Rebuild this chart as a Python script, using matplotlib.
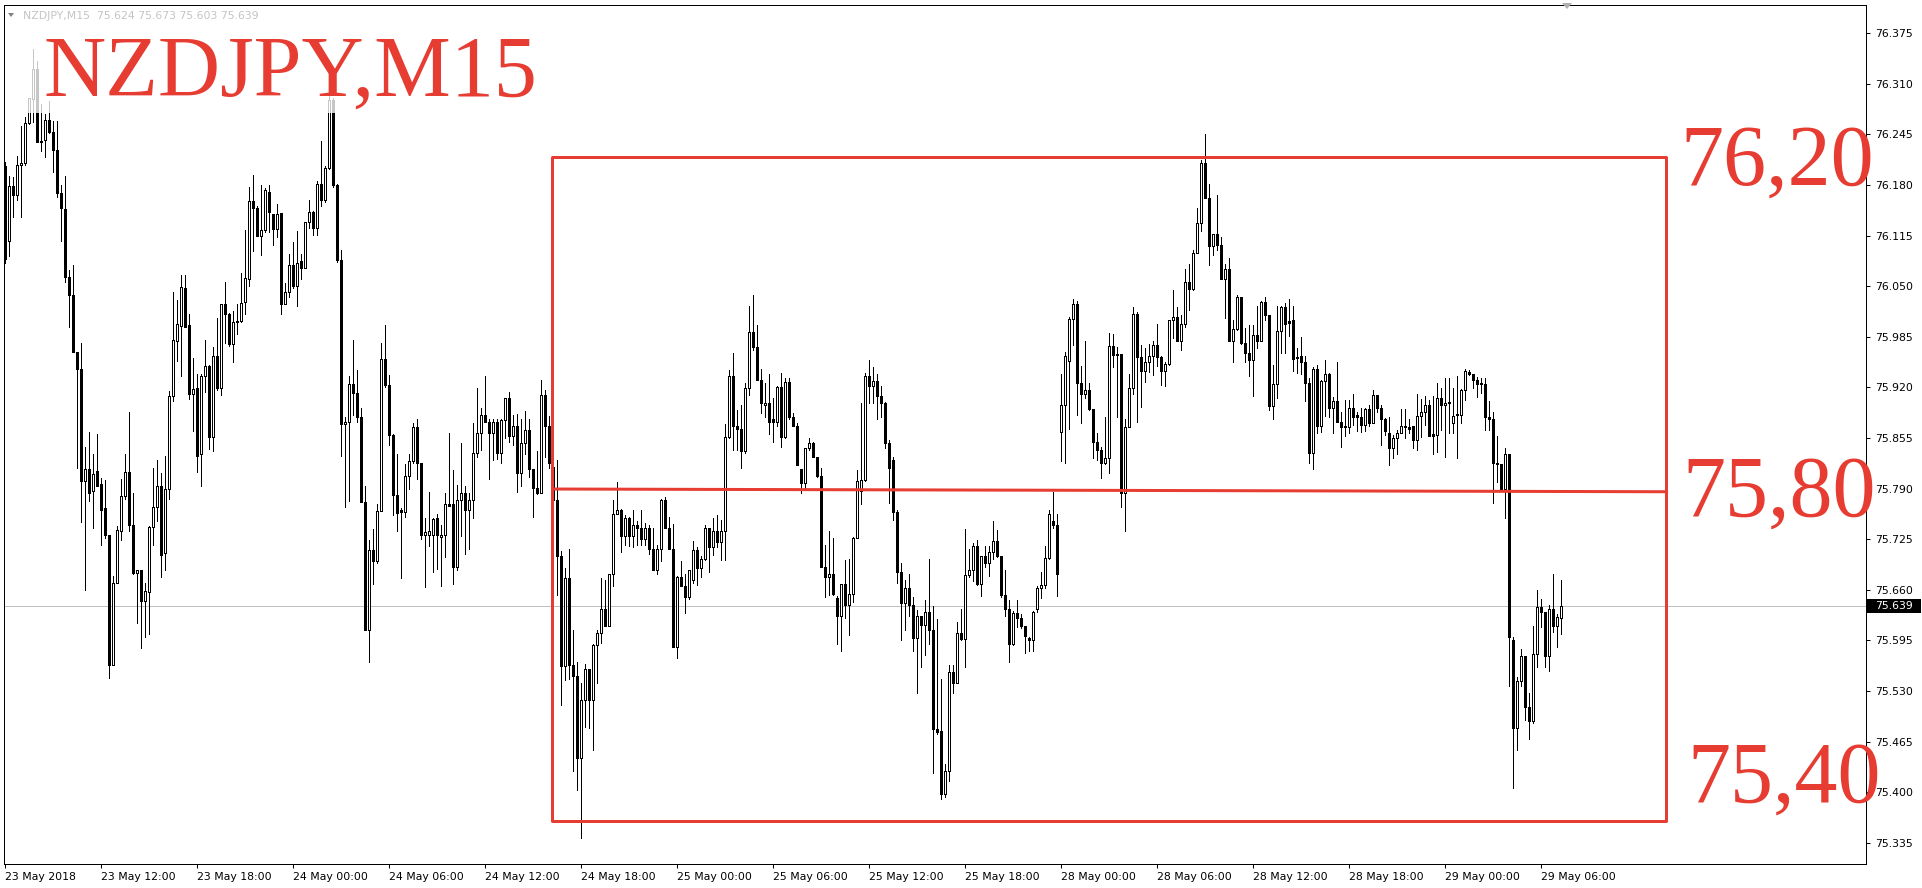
# -*- coding: utf-8 -*-
"""
NZDJPY M15 candlestick chart, MT4 style, with hand-drawn range box.
"""
import matplotlib
matplotlib.use("Agg")
import matplotlib.pyplot as plt
import numpy as np
from matplotlib.patches import Rectangle, Polygon

# --------------- data (M15 bars, 23 May 06:00 .. 29 May 07:30) ---------------
opens = [
    76.204, 76.108, 76.178, 76.167, 76.206, 76.208, 76.260, 76.290, 76.329, 76.235,
    76.238, 76.263, 76.248, 76.225, 76.170, 76.149, 76.062, 76.039, 75.966, 75.944,
    75.800, 75.815, 75.787, 75.812, 75.796, 75.765, 75.730, 75.564, 75.669, 75.736,
    75.781, 75.811, 75.743, 75.682, 75.685, 75.646, 75.657, 75.741, 75.766, 75.793,
    75.707, 75.790, 75.909, 75.979, 75.999, 76.048, 76.000, 75.912, 75.919, 75.835,
    75.935, 75.947, 75.856, 75.960, 75.919, 76.027, 76.014, 75.976, 76.004, 76.005,
    76.030, 76.059, 76.159, 76.150, 76.114, 76.122, 76.171, 76.142, 76.124, 76.144,
    76.027, 76.043, 76.077, 76.050, 76.082, 76.073, 76.132, 76.145, 76.125, 76.181,
    76.160, 76.202, 76.289, 76.180, 76.084, 75.873, 75.875, 75.924, 75.913, 75.882,
    75.773, 75.609, 75.711, 75.697, 75.761, 75.956, 75.923, 75.859, 75.782, 75.763,
    75.760, 75.806, 75.825, 75.869, 75.823, 75.730, 75.731, 75.731, 75.752, 75.728,
    75.731, 75.770, 75.770, 75.689, 75.775, 75.784, 75.762, 75.775, 75.836, 75.861,
    75.885, 75.876, 75.861, 75.876, 75.836, 75.878, 75.907, 75.857, 75.870, 75.810,
    75.848, 75.865, 75.815, 75.791, 75.785, 75.910, 75.870, 75.818, 75.776, 75.703,
    75.562, 75.675, 75.564, 75.549, 75.444, 75.519, 75.558, 75.519, 75.589, 75.604,
    75.635, 75.613, 75.681, 75.758, 75.763, 75.729, 75.752, 75.729, 75.743, 75.739,
    75.725, 75.739, 75.712, 75.686, 75.713, 75.775, 75.739, 75.713, 75.586, 75.676,
    75.665, 75.651, 75.673, 75.711, 75.688, 75.699, 75.739, 75.715, 75.736, 75.721,
    75.735, 75.856, 75.935, 75.870, 75.867, 75.838, 75.919, 75.991, 75.972, 75.930,
    75.897, 75.900, 75.879, 75.876, 75.920, 75.856, 75.927, 75.882, 75.870, 75.815,
    75.797, 75.842, 75.849, 75.830, 75.806, 75.689, 75.677, 75.681, 75.649, 75.626,
    75.668, 75.641, 75.655, 75.727, 75.787, 75.801, 75.935, 75.922, 75.928, 75.909,
    75.900, 75.849, 75.827, 75.760, 75.683, 75.643, 75.662, 75.641, 75.598, 75.627,
    75.615, 75.631, 75.609, 75.481, 75.479, 75.398, 75.427, 75.554, 75.540, 75.605,
    75.597, 75.679, 75.685, 75.716, 75.668, 75.704, 75.694, 75.708, 75.723, 75.704,
    75.653, 75.636, 75.591, 75.630, 75.624, 75.613, 75.598, 75.595, 75.635, 75.663,
    75.666, 75.701, 75.748, 75.743, 75.863, 75.897, 75.954, 76.008, 76.027, 75.926,
    75.912, 75.917, 75.892, 75.850, 75.840, 75.823, 75.829, 75.973, 75.962, 75.963,
    75.785, 75.869, 75.919, 76.014, 75.959, 75.941, 75.953, 75.960, 75.974, 75.959,
    75.941, 75.950, 76.006, 76.011, 75.980, 76.001, 76.055, 76.046, 76.093, 76.131,
    76.208, 76.163, 76.101, 76.117, 76.103, 76.059, 76.072, 75.979, 75.995, 76.036,
    75.977, 75.964, 75.955, 75.987, 75.980, 76.030, 76.013, 75.896, 75.924, 75.992,
    76.023, 76.005, 76.006, 75.958, 75.960, 75.953, 75.926, 75.836, 75.944, 75.870,
    75.928, 75.937, 75.893, 75.902, 75.876, 75.870, 75.869, 75.893, 75.884, 75.882,
    75.872, 75.892, 75.874, 75.910, 75.893, 75.880, 75.862, 75.842, 75.855, 75.862,
    75.870, 75.869, 75.870, 75.852, 75.883, 75.888, 75.897, 75.860, 75.859, 75.907,
    75.897, 75.901, 75.874, 75.886, 75.885, 75.917, 75.940, 75.937, 75.930, 75.925,
    75.924, 75.882, 75.879, 75.823, 75.822, 75.789, 75.834, 75.596, 75.482, 75.543,
    75.575, 75.509, 75.491, 75.578, 75.638, 75.631, 75.575, 75.635, 75.614, 75.624,
]
highs = [
    76.210, 76.192, 76.190, 76.217, 76.255, 76.267, 76.292, 76.355, 76.339, 76.284,
    76.271, 76.288, 76.262, 76.262, 76.180, 76.192, 76.071, 76.077, 75.966, 75.977,
    75.843, 75.863, 75.834, 75.860, 75.804, 75.801, 75.730, 75.678, 75.742, 75.802,
    75.834, 75.888, 75.784, 75.686, 75.686, 75.669, 75.742, 75.816, 75.827, 75.810,
    75.832, 75.915, 76.042, 76.032, 76.064, 76.064, 76.014, 75.958, 75.937, 75.937,
    75.981, 75.949, 75.972, 76.009, 76.027, 76.055, 76.016, 76.018, 76.027, 76.067,
    76.122, 76.177, 76.193, 76.153, 76.180, 76.176, 76.180, 76.142, 76.156, 76.144,
    76.054, 76.091, 76.107, 76.121, 76.091, 76.132, 76.161, 76.146, 76.185, 76.236,
    76.204, 76.300, 76.292, 76.181, 76.096, 75.882, 75.935, 75.981, 75.942, 75.894,
    75.793, 75.724, 75.738, 75.770, 75.977, 76.000, 75.936, 75.860, 75.835, 75.765,
    75.822, 75.834, 75.874, 75.880, 75.823, 75.752, 75.786, 75.752, 75.757, 75.743,
    75.785, 75.861, 75.814, 75.795, 75.848, 75.793, 75.784, 75.874, 75.919, 75.894,
    75.935, 75.880, 75.880, 75.880, 75.880, 75.907, 75.914, 75.885, 75.886, 75.880,
    75.890, 75.880, 75.815, 75.838, 75.929, 75.917, 75.883, 75.826, 75.827, 75.710,
    75.688, 75.713, 75.608, 75.568, 75.541, 75.565, 75.558, 75.590, 75.608, 75.675,
    75.673, 75.681, 75.775, 75.799, 75.764, 75.756, 75.754, 75.762, 75.748, 75.762,
    75.746, 75.743, 75.739, 75.718, 75.777, 75.779, 75.753, 75.745, 75.678, 75.697,
    75.681, 75.685, 75.723, 75.715, 75.703, 75.743, 75.739, 75.752, 75.756, 75.750,
    75.873, 75.942, 75.964, 75.891, 75.897, 75.925, 76.025, 76.039, 76.000, 75.943,
    75.925, 75.937, 75.906, 75.922, 75.938, 75.932, 75.932, 75.887, 75.874, 75.815,
    75.842, 75.855, 75.850, 75.831, 75.816, 75.718, 75.735, 75.726, 75.652, 75.668,
    75.698, 75.699, 75.728, 75.814, 75.900, 75.939, 75.955, 75.946, 75.937, 75.922,
    75.901, 75.852, 75.831, 75.762, 75.694, 75.673, 75.681, 75.651, 75.634, 75.627,
    75.647, 75.699, 75.639, 75.622, 75.545, 75.437, 75.564, 75.564, 75.619, 75.636,
    75.738, 75.713, 75.720, 75.724, 75.704, 75.716, 75.716, 75.749, 75.737, 75.704,
    75.685, 75.647, 75.633, 75.647, 75.629, 75.613, 75.600, 75.633, 75.665, 75.683,
    75.716, 75.763, 75.786, 75.758, 75.937, 75.965, 76.010, 76.033, 76.031, 75.947,
    75.980, 75.925, 75.892, 75.862, 75.843, 75.882, 75.990, 75.988, 75.972, 75.963,
    75.879, 75.937, 76.023, 76.017, 75.974, 75.971, 75.976, 75.979, 76.001, 75.960,
    75.953, 76.007, 76.045, 76.023, 76.013, 76.072, 76.078, 76.097, 76.150, 76.212,
    76.245, 76.181, 76.117, 76.167, 76.113, 76.078, 76.086, 76.007, 76.039, 76.036,
    75.996, 76.000, 76.000, 76.024, 76.031, 76.036, 76.013, 75.949, 76.024, 76.024,
    76.028, 76.034, 76.024, 75.970, 75.985, 75.960, 75.932, 75.946, 75.949, 75.930,
    75.955, 75.939, 75.908, 75.952, 75.888, 75.904, 75.904, 75.912, 75.888, 75.893,
    75.893, 75.897, 75.916, 75.910, 75.897, 75.881, 75.882, 75.859, 75.865, 75.892,
    75.892, 75.879, 75.870, 75.912, 75.905, 75.909, 75.904, 75.909, 75.925, 75.919,
    75.932, 75.932, 75.919, 75.934, 75.918, 75.943, 75.942, 75.937, 75.933, 75.932,
    75.932, 75.902, 75.889, 75.857, 75.822, 75.842, 75.834, 75.599, 75.548, 75.584,
    75.575, 75.527, 75.614, 75.660, 75.648, 75.632, 75.641, 75.680, 75.629, 75.673,
]
lows = [
    76.080, 76.089, 76.139, 76.161, 76.139, 76.205, 76.258, 76.261, 76.235, 76.223,
    76.216, 76.247, 76.197, 76.165, 76.108, 76.055, 75.998, 75.966, 75.817, 75.747,
    75.660, 75.774, 75.739, 75.793, 75.718, 75.726, 75.547, 75.564, 75.669, 75.724,
    75.777, 75.736, 75.681, 75.617, 75.585, 75.599, 75.603, 75.717, 75.748, 75.677,
    75.685, 75.777, 75.902, 75.954, 75.934, 75.997, 75.905, 75.864, 75.811, 75.793,
    75.914, 75.841, 75.838, 75.917, 75.910, 75.977, 75.973, 75.953, 75.989, 76.004,
    76.014, 76.050, 76.095, 76.114, 76.090, 76.120, 76.120, 76.103, 76.113, 76.014,
    76.027, 76.036, 76.047, 76.025, 76.059, 76.073, 76.125, 76.116, 76.116, 76.153,
    76.158, 76.200, 76.177, 76.081, 75.832, 75.767, 75.774, 75.885, 75.876, 75.773,
    75.608, 75.567, 75.668, 75.694, 75.761, 75.920, 75.846, 75.756, 75.736, 75.675,
    75.753, 75.790, 75.823, 75.803, 75.725, 75.664, 75.716, 75.683, 75.687, 75.665,
    75.702, 75.768, 75.667, 75.685, 75.729, 75.706, 75.713, 75.752, 75.831, 75.840,
    75.875, 75.803, 75.827, 75.828, 75.823, 75.855, 75.850, 75.846, 75.786, 75.793,
    75.835, 75.805, 75.754, 75.783, 75.785, 75.831, 75.816, 75.770, 75.653, 75.512,
    75.544, 75.546, 75.427, 75.403, 75.342, 75.484, 75.482, 75.455, 75.541, 75.592,
    75.613, 75.613, 75.665, 75.757, 75.709, 75.718, 75.716, 75.715, 75.718, 75.718,
    75.718, 75.706, 75.686, 75.681, 75.697, 75.739, 75.713, 75.586, 75.572, 75.665,
    75.630, 75.648, 75.669, 75.666, 75.677, 75.698, 75.683, 75.705, 75.715, 75.698,
    75.698, 75.855, 75.840, 75.839, 75.817, 75.836, 75.910, 75.968, 75.929, 75.887,
    75.882, 75.860, 75.850, 75.870, 75.844, 75.855, 75.879, 75.870, 75.820, 75.785,
    75.790, 75.840, 75.830, 75.805, 75.689, 75.651, 75.653, 75.653, 75.590, 75.582,
    75.624, 75.602, 75.645, 75.726, 75.770, 75.800, 75.900, 75.900, 75.880, 75.882,
    75.842, 75.772, 75.750, 75.669, 75.595, 75.608, 75.626, 75.581, 75.527, 75.561,
    75.576, 75.591, 75.425, 75.475, 75.392, 75.394, 75.414, 75.527, 75.540, 75.595,
    75.561, 75.677, 75.671, 75.666, 75.652, 75.689, 75.678, 75.700, 75.702, 75.651,
    75.626, 75.568, 75.589, 75.612, 75.611, 75.579, 75.581, 75.582, 75.631, 75.649,
    75.662, 75.700, 75.739, 75.652, 75.825, 75.823, 75.867, 75.974, 75.884, 75.874,
    75.907, 75.891, 75.829, 75.827, 75.804, 75.822, 75.810, 75.946, 75.882, 75.766,
    75.735, 75.869, 75.912, 75.876, 75.895, 75.927, 75.940, 75.936, 75.947, 75.923,
    75.922, 75.949, 75.984, 75.979, 75.968, 75.998, 76.020, 76.045, 76.093, 76.121,
    76.163, 76.077, 76.090, 76.096, 76.059, 76.009, 75.979, 75.952, 75.994, 75.976,
    75.952, 75.934, 75.909, 75.971, 75.979, 76.007, 75.891, 75.880, 75.906, 75.964,
    75.964, 75.986, 75.941, 75.939, 75.937, 75.902, 75.823, 75.815, 75.862, 75.863,
    75.883, 75.882, 75.862, 75.876, 75.843, 75.858, 75.862, 75.872, 75.864, 75.863,
    75.864, 75.870, 75.874, 75.888, 75.846, 75.859, 75.820, 75.829, 75.835, 75.861,
    75.855, 75.862, 75.842, 75.840, 75.856, 75.872, 75.857, 75.835, 75.837, 75.865,
    75.830, 75.861, 75.861, 75.829, 75.874, 75.904, 75.936, 75.919, 75.908, 75.913,
    75.865, 75.865, 75.772, 75.799, 75.788, 75.752, 75.536, 75.405, 75.455, 75.536,
    75.493, 75.468, 75.489, 75.561, 75.612, 75.561, 75.556, 75.606, 75.587, 75.603,
]
closes = [
    76.085, 76.178, 76.167, 76.206, 76.208, 76.260, 76.292, 76.329, 76.235, 76.236,
    76.263, 76.248, 76.225, 76.169, 76.150, 76.062, 76.039, 75.966, 75.943, 75.800,
    75.815, 75.785, 75.809, 75.794, 75.763, 75.730, 75.563, 75.669, 75.737, 75.780,
    75.811, 75.743, 75.682, 75.685, 75.646, 75.659, 75.741, 75.767, 75.793, 75.705,
    75.790, 75.909, 75.981, 76.002, 76.049, 75.998, 75.912, 75.918, 75.832, 75.935,
    75.947, 75.856, 75.960, 75.919, 76.027, 76.014, 75.976, 76.004, 76.005, 76.028,
    76.060, 76.159, 76.150, 76.114, 76.122, 76.174, 76.145, 76.124, 76.142, 76.027,
    76.042, 76.077, 76.050, 76.080, 76.073, 76.132, 76.145, 76.125, 76.181, 76.160,
    76.202, 76.289, 76.180, 76.084, 75.873, 75.875, 75.924, 75.913, 75.882, 75.773,
    75.609, 75.711, 75.697, 75.761, 75.956, 75.923, 75.859, 75.782, 75.759, 75.760,
    75.806, 75.825, 75.869, 75.823, 75.730, 75.734, 75.736, 75.751, 75.730, 75.731,
    75.770, 75.768, 75.689, 75.775, 75.784, 75.762, 75.775, 75.836, 75.861, 75.885,
    75.876, 75.861, 75.876, 75.836, 75.878, 75.907, 75.857, 75.870, 75.810, 75.848,
    75.865, 75.815, 75.791, 75.785, 75.910, 75.870, 75.823, 75.775, 75.703, 75.562,
    75.675, 75.564, 75.549, 75.444, 75.519, 75.558, 75.519, 75.589, 75.604, 75.635,
    75.613, 75.681, 75.758, 75.763, 75.729, 75.752, 75.729, 75.743, 75.739, 75.725,
    75.739, 75.712, 75.686, 75.713, 75.775, 75.739, 75.713, 75.586, 75.676, 75.665,
    75.651, 75.685, 75.711, 75.688, 75.699, 75.739, 75.715, 75.736, 75.721, 75.735,
    75.856, 75.935, 75.870, 75.867, 75.838, 75.919, 75.991, 75.972, 75.930, 75.900,
    75.900, 75.876, 75.876, 75.920, 75.856, 75.927, 75.882, 75.870, 75.820, 75.797,
    75.842, 75.849, 75.830, 75.806, 75.689, 75.677, 75.681, 75.655, 75.626, 75.668,
    75.641, 75.655, 75.727, 75.800, 75.801, 75.935, 75.922, 75.928, 75.909, 75.900,
    75.849, 75.817, 75.760, 75.683, 75.643, 75.662, 75.641, 75.598, 75.627, 75.615,
    75.631, 75.609, 75.481, 75.477, 75.398, 75.427, 75.554, 75.540, 75.605, 75.597,
    75.679, 75.685, 75.716, 75.668, 75.704, 75.694, 75.708, 75.723, 75.704, 75.653,
    75.636, 75.591, 75.630, 75.624, 75.613, 75.601, 75.595, 75.632, 75.663, 75.666,
    75.701, 75.757, 75.743, 75.680, 75.897, 75.960, 76.008, 76.027, 75.926, 75.912,
    75.917, 75.892, 75.850, 75.840, 75.823, 75.829, 75.973, 75.962, 75.963, 75.785,
    75.869, 75.919, 76.014, 75.959, 75.941, 75.953, 75.960, 75.974, 75.959, 75.941,
    75.950, 76.006, 76.011, 75.980, 76.001, 76.055, 76.046, 76.093, 76.131, 76.208,
    76.163, 76.101, 76.117, 76.103, 76.059, 76.072, 75.979, 75.995, 76.036, 75.977,
    75.964, 75.955, 75.987, 75.980, 76.030, 76.013, 75.896, 75.924, 75.992, 76.023,
    76.002, 76.003, 75.957, 75.958, 75.953, 75.926, 75.836, 75.944, 75.870, 75.928,
    75.937, 75.893, 75.902, 75.876, 75.869, 75.869, 75.893, 75.882, 75.882, 75.872,
    75.892, 75.874, 75.910, 75.893, 75.880, 75.864, 75.842, 75.855, 75.862, 75.870,
    75.869, 75.867, 75.852, 75.883, 75.888, 75.897, 75.858, 75.858, 75.907, 75.897,
    75.900, 75.900, 75.883, 75.885, 75.917, 75.941, 75.937, 75.930, 75.924, 75.924,
    75.882, 75.879, 75.823, 75.822, 75.789, 75.834, 75.599, 75.482, 75.543, 75.575,
    75.509, 75.491, 75.578, 75.638, 75.631, 75.575, 75.635, 75.614, 75.625, 75.639,
]

# time axis: bar index of each label
time_idx = [0, 24, 48, 72, 96, 120, 144, 168, 192, 216, 240, 264, 288, 312, 336, 360, 384]
time_labels = [
    "23 May 2018", "23 May 12:00", "23 May 18:00", "24 May 00:00", "24 May 06:00",
    "24 May 12:00", "24 May 18:00", "25 May 00:00", "25 May 06:00", "25 May 12:00",
    "25 May 18:00", "28 May 00:00", "28 May 06:00", "28 May 12:00", "28 May 18:00",
    "29 May 00:00", "29 May 06:00",
]
price_ticks = [76.375, 76.310, 76.245, 76.180, 76.115, 76.050, 75.985, 75.920, 75.855,
               75.790, 75.725, 75.660, 75.595, 75.530, 75.465, 75.400, 75.335]

# hand-drawn annotation (bar index / price)
box_x0, box_x1 = 136.8, 415.25
box_y0, box_y1 = 75.3632, 76.2162
mid_y0, mid_y1 = 75.7895, 75.786
level_labels = ["76,20", "75,80", "75,40"]

# --------------- figure ---------------
W, H = 1922, 888
RED = "#e63c32"
PX = 0.72  # 1 px in points

fig = plt.figure(figsize=(W / 100, H / 100), dpi=100)
fig.patch.set_facecolor("white")
ax = fig.add_axes([4 / W, 1 - 864 / H, (1866 - 4) / W, (864 - 5) / H])
ax.set_xlim(-0.25, 465.25)
ax.set_ylim(75.308, 76.411)

o = np.array(opens)
h = np.array(highs)
l = np.array(lows)
c = np.array(closes)
x = np.arange(len(c))

# bid line
ax.axhline(c[-1], color="#c0c0c0", lw=PX, zorder=1)

# candles
ax.vlines(x, l, h, color="black", lw=PX, zorder=2, antialiased=False)
bull = c >= o
lo = np.minimum(o, c)
hh = np.maximum(np.abs(c - o), 0.0004)
ax.bar(x[bull], hh[bull], bottom=lo[bull], width=0.5, color="white",
       edgecolor="black", lw=PX, zorder=3, antialiased=False)
ax.bar(x[~bull], hh[~bull], bottom=lo[~bull], width=0.5, color="black",
       edgecolor="black", lw=PX, zorder=3, antialiased=False)

# range box + middle line
ax.add_patch(Rectangle((box_x0, box_y0), box_x1 - box_x0, box_y1 - box_y0,
                       fill=False, ec=RED, lw=3 * PX, joinstyle="round", zorder=5))
ax.plot([box_x0, box_x1], [mid_y0, mid_y1], color=RED, lw=3 * PX, zorder=5,
        solid_capstyle="butt")

# axes look
for s in ax.spines.values():
    s.set_linewidth(PX)
    s.set_color("black")
ax.yaxis.tick_right()
ax.set_yticks(price_ticks)
ax.set_yticklabels([f"{v:.3f}" for v in price_ticks])
ax.set_xticks(time_idx)
ax.set_xticklabels(time_labels, ha="left")
ax.tick_params(axis="both", direction="out", length=4 * PX, width=PX,
               labelsize=7.8, colors="black")
ax.tick_params(axis="y", pad=4)
ax.tick_params(axis="x", pad=3)
for t in ax.get_xticklabels() + ax.get_yticklabels():
    t.set_family("DejaVu Sans")


def fx(px):
    return px / W


def fy(py):
    return 1 - py / H


# current price tag on the price scale
fig.add_artist(Rectangle((fx(1867), fy(613)), fx(54), 14 / H, transform=fig.transFigure,
                         fc="black", ec="none", zorder=6))
fig.text(fx(1894), fy(606), f"{c[-1]:.3f}", color="white", fontsize=7.8,
         ha="center", va="center", family="DejaVu Sans", zorder=7)

# white veil behind the big symbol label (MT4 text background)
fig.add_artist(Rectangle((fx(18), fy(113)), fx(517), 85 / H, transform=fig.transFigure,
                         fc="white", ec="none", alpha=0.78, zorder=2))

# header line
fig.text(fx(23), fy(16), f"NZDJPY,M15  {o[-1]:.3f} {h[-1]:.3f} {l[-1]:.3f} {c[-1]:.3f}",
         color="#c4c4c4", fontsize=7.8, va="center", family="DejaVu Sans", zorder=7)
fig.add_artist(Polygon([(fx(8), fy(13)), (fx(14), fy(13)), (fx(11), fy(17))],
                       closed=True, transform=fig.transFigure, fc="#808080", ec="none"))
fig.add_artist(Polygon([(fx(1562), fy(3)), (fx(1572), fy(3)), (fx(1567), fy(9))],
                       closed=True, transform=fig.transFigure, fc="#b0b0b0", ec="none"))

# big red labels (drawn over the price scale, as in the original)
fig.text(fx(43), fy(96), "NZDJPY,M15", color=RED, fontsize=62,
         family="Liberation Serif", va="baseline", zorder=8)
for lab, xp, yp in zip(level_labels, [1680, 1682, 1687], [185, 516, 802]):
    fig.text(fx(xp), fy(yp), lab, color=RED, fontsize=62,
             family="Liberation Serif", va="baseline", zorder=8)

fig.savefig("out.png", dpi=100)
plt.close(fig)
